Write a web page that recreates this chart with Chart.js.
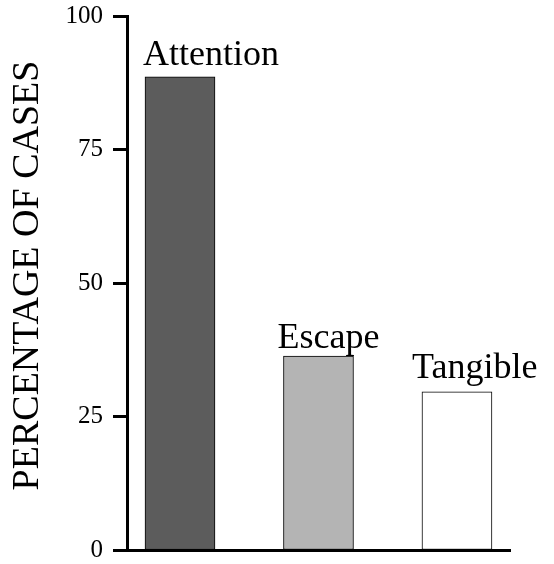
<!DOCTYPE html>
<html>
<head>
<meta charset="utf-8">
<script src="https://cdn.jsdelivr.net/npm/chart.js@4"></script>
<style>
  html, body { margin: 0; padding: 0; background: #fff; }
  #wrap { width: 554px; height: 564px; }
</style>
</head>
<body>
<div id="wrap"><canvas id="c" width="554" height="564"></canvas></div>
<script>
const categories = ["Attention", "Escape", "Tangible"];
const values = [88.6, 36.3, 29.6];
const yTicks = [0, 25, 50, 75, 100];
const yTitle = "PERCENTAGE OF CASES";

const fills = ["#5c5c5c", "#b4b4b4", "#ffffff"];
const labelDx = [-2, -6, -10];
const labelDy = [12, 8, 14];
const serif = "'Liberation Serif', 'Times New Roman', serif";

const barLabels = {
  id: 'barLabels',
  afterDatasetsDraw(chart) {
    const ctx = chart.ctx;
    const meta = chart.getDatasetMeta(0);
    ctx.save();
    ctx.font = "36px " + serif;
    ctx.fillStyle = "#000";
    ctx.textAlign = "left";
    ctx.textBaseline = "alphabetic";
    meta.data.forEach((bar, i) => {
      const left = bar.x - bar.width / 2;
      ctx.fillText(categories[i], left + labelDx[i], bar.y - labelDy[i]);
    });
    ctx.restore();
  }
};

const axisTitle = {
  id: 'axisTitle',
  afterDraw(chart) {
    const ctx = chart.ctx;
    const y = chart.scales.y;
    const cy = (y.getPixelForValue(0) + y.getPixelForValue(100)) / 2 - 7.5;
    ctx.save();
    ctx.translate(28, cy);
    ctx.rotate(-Math.PI / 2);
    ctx.font = "38px " + serif;
    ctx.fillStyle = "#000";
    ctx.textAlign = "center";
    ctx.textBaseline = "middle";
    ctx.fillText(yTitle, 0, 0);
    ctx.restore();
  }
};

new Chart(document.getElementById('c'), {
  type: 'bar',
  data: {
    datasets: [{
      data: values.map((v, i) => ({ x: i, y: v })),
      backgroundColor: fills,
      borderColor: "#000",
      borderWidth: 1,
      borderSkipped: false,
      barThickness: 70
    }]
  },
  options: {
    responsive: false,
    animation: false,
    devicePixelRatio: 1,
    layout: { padding: { top: 16, right: 44, left: 0, bottom: 0 } },
    plugins: { legend: { display: false }, tooltip: { enabled: false } },
    scales: {
      x: {
        type: 'linear',
        offset: false,
        min: -0.3827,
        max: 2.383,
        grid: { display: true, drawOnChartArea: false, drawTicks: false },
        border: { display: true, color: "#000", width: 3 },
        ticks: { display: false },
        afterFit(scale) {
          scale.height = 14;
          scale.paddingLeft = 0; scale.paddingRight = 0;
          scale.paddingTop = 0; scale.paddingBottom = 0;
        }
      },
      y: {
        min: 0,
        max: 100,
        afterBuildTicks(scale) { scale.ticks = yTicks.map(v => ({ value: v })); },
        grid: { display: true, drawOnChartArea: false, drawTicks: true, tickLength: 14, tickWidth: 3, tickColor: "#000" },
        border: { display: true, color: "#000", width: 3 },
        ticks: { color: "#000", padding: 10, font: { family: serif, size: 25 } },
        title: { display: false },
        afterFit(scale) {
          scale.width = 127;
          scale.paddingTop = 0; scale.paddingBottom = 0;
          scale.paddingLeft = 0; scale.paddingRight = 0;
        }
      }
    }
  },
  plugins: [barLabels, axisTitle]
});
</script>
</body>
</html>
